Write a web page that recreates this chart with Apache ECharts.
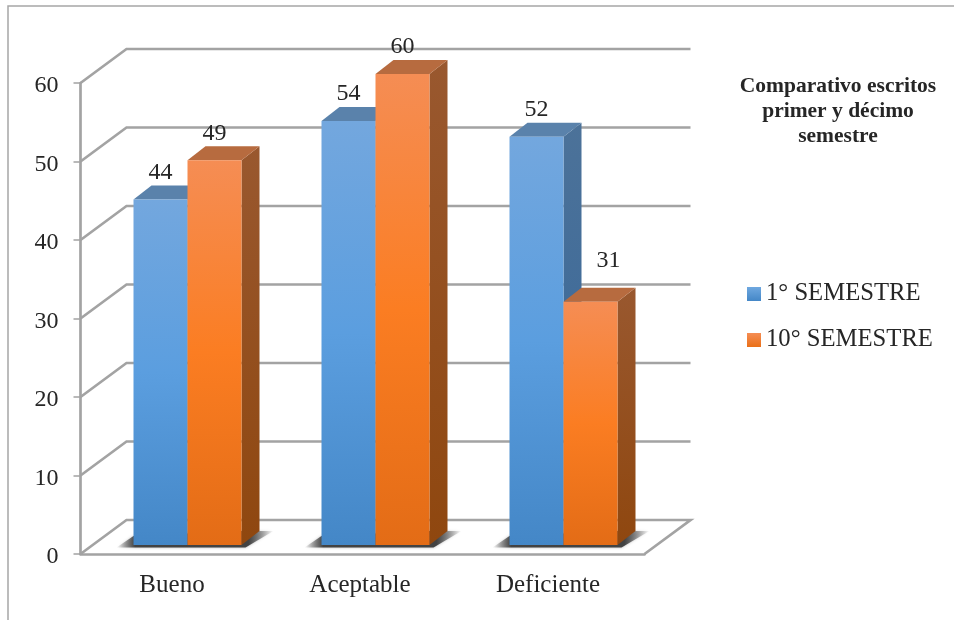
<!DOCTYPE html>
<html>
<head>
<meta charset="utf-8">
<style>html,body{margin:0;padding:0;background:#fff}#c{width:954px;height:620px}</style>
<script src="https://cdn.jsdelivr.net/npm/echarts@6/dist/echarts.min.js"></script>
</head>
<body>
<div id="c"></div>
<script>
const categories = ['Bueno', 'Aceptable', 'Deficiente'];
const semestre1 = [44, 54, 52];
const semestre10 = [49, 60, 31];
const yTicks = [0, 10, 20, 30, 40, 50, 60];
const titleText = 'Comparativo escritos\nprimer y décimo\nsemestre';

const FONT = '"Liberation Serif", serif';
const TEXT = '#262626';
const GRID = '#a3a3a3';
const WALL_DX = 46, WALL_DY = -34;
const DEPTH_DX = 18, DEPTH_DY = -14;
const FLOOR_LIFT = -9;
const BAR_FRAC = 54 / 188, PAIR_SHIFT = 13 / 188;

function vGrad(stops) {
  return { type: 'linear', x: 0, y: 0, x2: 0, y2: 1,
    colorStops: stops.map(s => ({ offset: s[0], color: s[1] })) };
}
const skins = [
  { front: vGrad([[0, '#73a7de'], [0.5, '#5b9edf'], [1, '#4487c7']]),
    top: '#5a82ab', side: vGrad([[0, '#4c7299'], [1, '#35669a']]) },
  { front: vGrad([[0, '#f58d54'], [0.5, '#fb7d22'], [1, '#e36c16']]),
    top: '#b76b3f', side: vGrad([[0, '#99582f'], [1, '#8f470f']]) }
];
const labelNudge = { '1-2': [18, -14] };

function wallItem(params, api) {
  const v = api.value(1);
  const band = api.size([1, 0])[0];
  const y = api.coord([0, v])[1];
  const l = api.coord([0, v])[0] - band / 2;
  const r = api.coord([categories.length - 1, v])[0] + band / 2;
  const pts = [[l, y], [l + WALL_DX, y + WALL_DY], [r + WALL_DX, y + WALL_DY]];
  if (v === 0) pts.push([r, y]);
  return { type: 'polyline', shape: { points: pts },
    style: { stroke: GRID, lineWidth: 2.7, fill: null } };
}

function shadowItem(params, api) {
  const p = api.coord([api.value(0), 0]);
  const band = api.size([1, 0])[0];
  const w = band * BAR_FRAC, c = p[0] + band * PAIR_SHIFT;
  const y = p[1] + FLOOR_LIFT, x0 = c - w, x1 = c + w;
  return { type: 'polygon',
    shape: { points: [[x0 - 17, y + 2.5], [x1 + 4, y + 2.5], [x1 + 32, y - 14], [x1, y - 14], [x0, y - 9]] },
    style: {
      fill: { type: 'linear', x: 0, y: 0, x2: 1, y2: 0, colorStops: [
        { offset: 0, color: 'rgba(70,70,70,0)' },
        { offset: 0.12, color: 'rgba(60,60,60,0.95)' },
        { offset: 0.84, color: 'rgba(60,60,60,0.95)' },
        { offset: 1, color: 'rgba(70,70,70,0)' }] },
      shadowBlur: 3, shadowColor: 'rgba(90,90,90,0.5)' } };
}

function barRenderer(seriesIdx) {
  const skin = skins[seriesIdx];
  return function (params, api) {
    const idx = api.value(0), v = api.value(1);
    const band = api.size([1, 0])[0];
    const p = api.coord([idx, v]);
    const w = band * BAR_FRAC;
    const c = p[0] + band * PAIR_SHIFT;
    const x0 = seriesIdx === 0 ? c - w : c, x1 = x0 + w;
    const yT = p[1] + FLOOR_LIFT, yB = api.coord([idx, 0])[1] + FLOOR_LIFT;
    const nudge = labelNudge[seriesIdx + '-' + idx] || [0, 0];
    return { type: 'group', children: [
      { type: 'polygon', shape: { points: [[x1, yT], [x1 + DEPTH_DX, yT + DEPTH_DY], [x1 + DEPTH_DX, yB + DEPTH_DY], [x1, yB]] },
        style: { fill: skin.side } },
      { type: 'polygon', shape: { points: [[x0, yT], [x0 + DEPTH_DX, yT + DEPTH_DY], [x1 + DEPTH_DX, yT + DEPTH_DY], [x1, yT]] },
        style: { fill: skin.top } },
      { type: 'rect', shape: { x: x0, y: yT, width: w, height: yB - yT },
        style: { fill: skin.front } },
      { type: 'text', x: (x0 + x1) / 2 + nudge[0], y: yT - 27 + nudge[1],
        style: { text: String(v), font: '24px ' + FONT, fill: TEXT, align: 'center', verticalAlign: 'middle' } }
    ] };
  };
}

const chart = echarts.init(document.getElementById('c'), null, { renderer: 'canvas' });
chart.setOption({
  animation: false,
  backgroundColor: '#fff',
  textStyle: { fontFamily: FONT },
  graphic: [{ type: 'polyline', silent: true, z: -1,
    shape: { points: [[8, 620], [8, 6], [954, 6]] },
    style: { stroke: '#a6a6a6', lineWidth: 1.5, fill: null } }],
  title: { text: titleText, left: 833, top: 69, textAlign: 'center',
    textStyle: { fontFamily: FONT, fontWeight: 'bold', fontSize: 21.5, lineHeight: 25, color: TEXT } },
  legend: { data: ['1° SEMESTRE', '10° SEMESTRE'], orient: 'vertical', left: 742, top: 276,
    itemWidth: 14, itemHeight: 14, itemGap: 20, icon: 'rect',
    textStyle: { fontFamily: FONT, fontSize: 24.7, color: TEXT, lineHeight: 26 }, selectedMode: false },
  grid: { left: 80.5, right: 309.5, top: 83, bottom: 66 },
  xAxis: { type: 'category', data: categories,
    axisLine: { lineStyle: { color: GRID, width: 2.7 } },
    axisTick: { length: 8, lineStyle: { color: GRID, width: 1.5 } },
    axisLabel: { fontFamily: FONT, fontSize: 25, color: TEXT, margin: 19, padding: [0, 5, 0, 0] } },
  yAxis: { type: 'value', min: 0, max: 60, interval: 10,
    axisLine: { show: true, lineStyle: { color: GRID, width: 2.7 } },
    axisTick: { show: true, length: 7, lineStyle: { color: GRID, width: 1.5 } },
    splitLine: { show: false },
    axisLabel: { fontFamily: FONT, fontSize: 24, color: TEXT, margin: 22, verticalAlign: 'top', lineHeight: 6,
      formatter: v => yTicks.includes(v) ? String(v) : '' } },
  series: [
    { type: 'custom', name: 'paredes', silent: true, clip: false, renderItem: wallItem,
      data: yTicks.map(t => [0, t]) },
    { type: 'custom', name: 'sombras', silent: true, clip: false, renderItem: shadowItem,
      data: categories.map((c, i) => [i, 0]) },
    { type: 'custom', name: '1° SEMESTRE', clip: false, renderItem: barRenderer(0),
      itemStyle: { color: vGrad([[0, '#6fa8e0'], [1, '#4487c7']]) },
      data: semestre1.map((v, i) => [i, v]) },
    { type: 'custom', name: '10° SEMESTRE', clip: false, renderItem: barRenderer(1),
      itemStyle: { color: vGrad([[0, '#f58d54'], [1, '#ea7018']]) },
      data: semestre10.map((v, i) => [i, v]) }
  ]
});
</script>
</body>
</html>
